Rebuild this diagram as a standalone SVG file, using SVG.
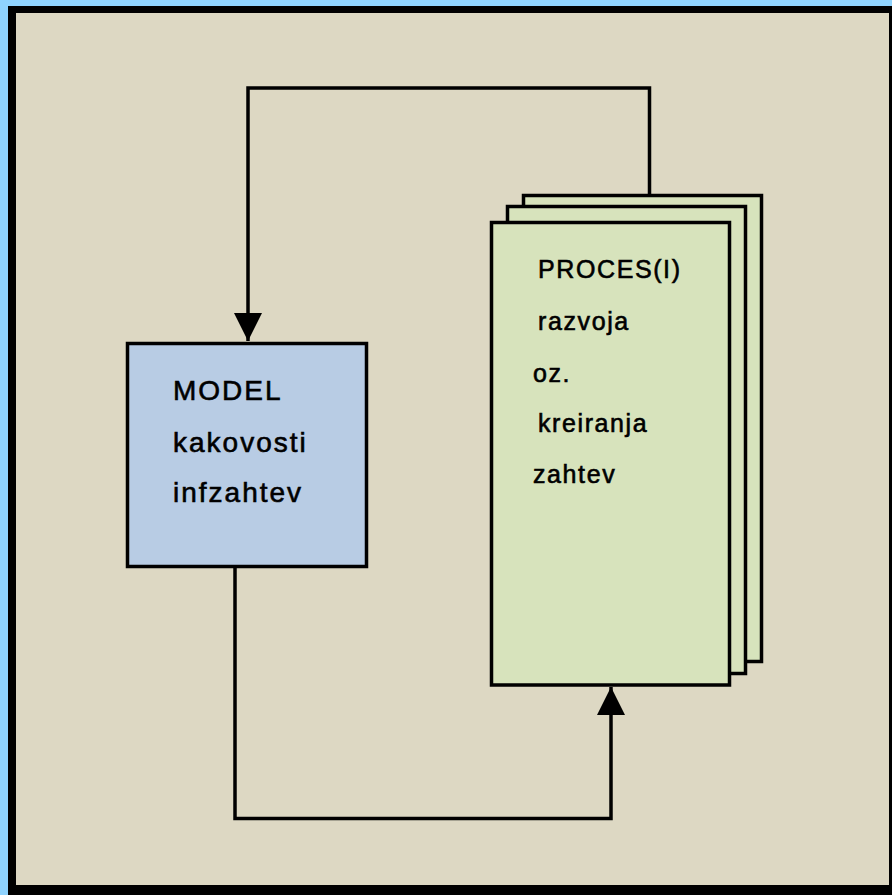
<svg xmlns="http://www.w3.org/2000/svg" width="892" height="895" viewBox="0 0 892 895">
<style>
.box{stroke:#000;stroke-width:3.5}
.page{fill:#d7e3bc}
.lbl{font-family:"Liberation Sans",Arial,sans-serif;fill:#000;stroke:#000;stroke-width:0.6}
.m{font-size:28px;letter-spacing:2px}
.p{font-size:25px;letter-spacing:1.6px}
.conn{fill:none;stroke:#000;stroke-width:3.5}
</style>
<defs>
<marker id="arr" markerUnits="userSpaceOnUse" markerWidth="30" markerHeight="30" refX="28" refY="14" orient="auto" viewBox="0 0 30 28">
<path d="M0,0 L28,14 L0,28 Z" fill="#000"/>
</marker>
</defs>
<rect width="892" height="895" fill="#8fd3fe"/>
<rect x="8" y="6" width="884" height="889" fill="#000"/>
<rect x="16" y="13" width="873" height="872" fill="#ddd8c3"/>
<g id="connectors">
<path class="conn" d="M649.5 195 V88 H248 V341" marker-end="url(#arr)"/>
<path class="conn" d="M235 567 V818.5 H611 V687" marker-end="url(#arr)"/>
</g>
<g id="model">
<rect class="box" x="127.5" y="343.5" width="239" height="223" fill="#b8cce4"/>
<text class="lbl m" x="173" y="400">MODEL</text>
<text class="lbl m" x="173" y="452">kakovosti</text>
<text class="lbl m" x="173" y="502">infzahtev</text>
</g>
<g id="proces">
<rect class="box page" x="523.5" y="195.5" width="238" height="466"/>
<rect class="box page" x="507.5" y="206.5" width="238" height="467"/>
<rect class="box page" x="491.5" y="222.5" width="238" height="462.5"/>
<text class="lbl p" x="538" y="278">PROCES(I)</text>
<text class="lbl p" x="538" y="330">razvoja</text>
<text class="lbl p" x="533" y="382">oz.</text>
<text class="lbl p" x="538" y="432">kreiranja</text>
<text class="lbl p" x="533" y="483">zahtev</text>
</g>
</svg>
